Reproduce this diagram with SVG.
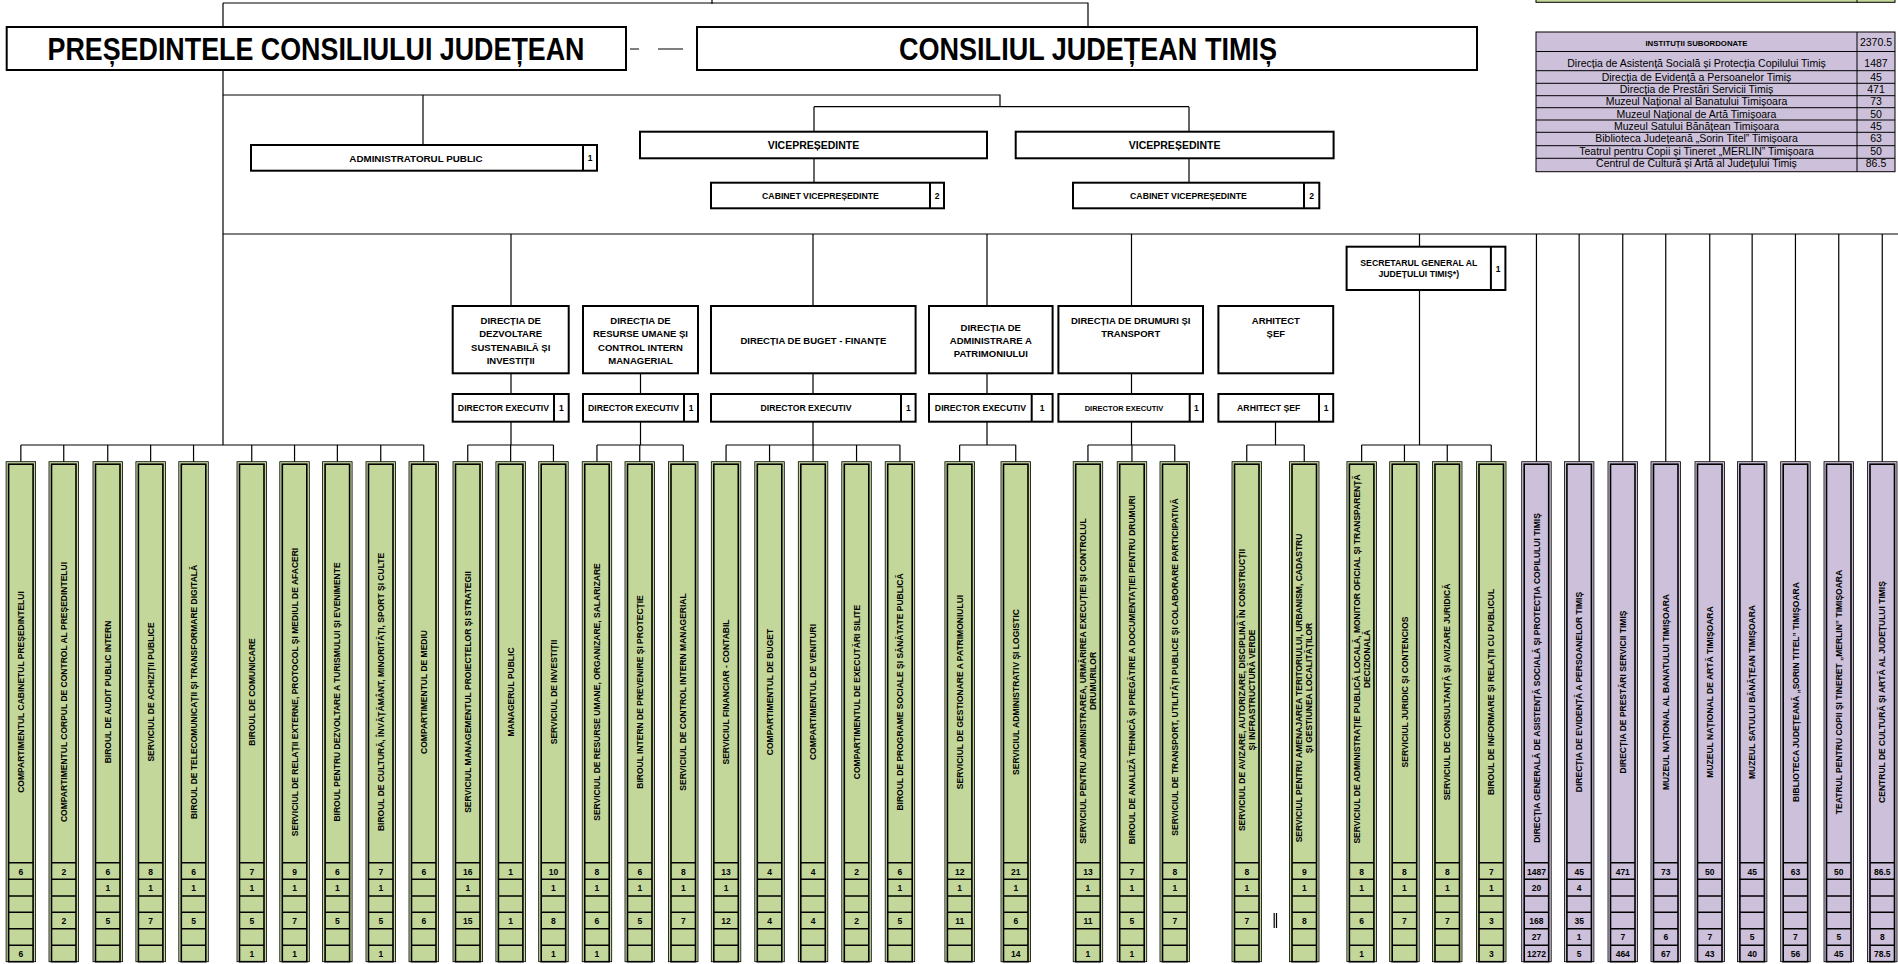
<svg xmlns="http://www.w3.org/2000/svg" width="1898" height="964" viewBox="0 0 1898 964">
<style>
.ln{stroke:#000;stroke-width:1.2;fill:none}
.bx{fill:#fff;stroke:#000;stroke-width:2}
.dv{stroke:#000;stroke-width:2}
.t{font-family:"Liberation Sans",Arial,sans-serif;font-weight:bold;text-anchor:middle;fill:#000}
.big{font-size:31px}
.s10{font-size:10.5px}
.s95{font-size:9.5px}
.s97{font-size:9.8px}
.s87{font-size:8.7px}
.s85{font-size:8.5px}
.s75{font-size:7.5px}
.s78{font-size:7.8px}
.n{font-size:8.5px}
.lb{font-size:8.5px}
.tb{font-family:"Liberation Sans",Arial,sans-serif;font-size:10.5px;text-anchor:middle;fill:#000}
.tbl{fill:#CCC0DA;stroke:#000;stroke-width:1}
.tl{stroke:#000;stroke-width:1}
</style>
<defs>
<g id="frame">
<rect x="0" y="0" width="29.5" height="500" stroke="#000" stroke-width="0.8"/>
<rect x="2.5" y="2.5" width="24.5" height="497.5" fill="none" stroke="#000" stroke-width="1.6"/>
<path d="M2.5,401H27M2.5,417.6H27M2.5,434.3H27M2.5,450.6H27M2.5,467H27M2.5,483.6H27" stroke="#000" stroke-width="1.6"/>
</g>
</defs>
<rect width="1898" height="964" fill="#fff"/>

<g id="connectors" class="ln">
<path d="M223,3H1088V27"/>
<path d="M712,0V4"/>
<path d="M223,3V445"/>
<path d="M630,49H639M658,49H683"/>
<path d="M223,95H1000V106.7M814,106.7H1189M814,106.7V131.7M1189,106.7V131.7"/>
<path d="M423,95V145"/>
<path d="M814,158.3V182.7M1189,158.3V182.7"/>
<path d="M223,234H1898"/>
<path d="M511,234V306M813,234V306M987,234V306M1131.5,234V306M1419.5,234V246.7"/>
<path d="M511,373.3V394M640.5,373.3V394M813,373.3V394M987,373.3V394M1131.5,373.3V394"/>
<path d="M511,421.7V445M640.5,421.7V445M813,421.7V445M987,421.7V445M1131.5,421.7V445M1275.5,421.7V445"/>
<path d="M1419.5,290V445"/>
<path d="M20.85,445H423.75M20.85,445V461.7M63.75,445V461.7M107.75,445V461.7M150.65,445V461.7M193.55,445V461.7M251.75,445V461.7M294.55,445V461.7M337.35,445V461.7M380.75,445V461.7M423.75,445V461.7"/>
<path d="M467.75,445H553.45M467.75,445V461.7M510.65,445V461.7M553.45,445V461.7"/>
<path d="M596.95,445H683.25M596.95,445V461.7M639.75,445V461.7M683.25,445V461.7"/>
<path d="M726.05,445H899.95M726.05,445V461.7M769.55,445V461.7M813.05,445V461.7M856.55,445V461.7M899.95,445V461.7"/>
<path d="M959.65,445H1015.75M959.65,445V461.7M1015.75,445V461.7"/>
<path d="M1087.95,445H1174.75M1087.95,445V461.7M1131.95,445V461.7M1174.75,445V461.7"/>
<path d="M1246.75,445H1304.25M1246.75,445V461.7M1304.25,445V461.7"/>
<path d="M1361.65,445H1491.25M1361.65,445V461.7M1404.45,445V461.7M1447.25,445V461.7M1491.25,445V461.7"/>
<path d="M1536.45,234V461.7M1579.15,234V461.7M1622.75,234V461.7M1665.75,234V461.7M1709.75,234V461.7M1752.15,234V461.7M1795.45,234V461.7M1838.75,234V461.7M1882.25,234V461.7"/>
<path d="M1274.2,913V928M1276.5,913V928"/>
</g>

<g id="n-presedinte">
<rect class="bx" x="6.7" y="27" width="619.3" height="43"/>
<text class="t big" x="316" y="60" textLength="537" lengthAdjust="spacingAndGlyphs">PREȘEDINTELE CONSILIULUI JUDEȚEAN</text>
</g>
<g id="n-consiliu">
<rect class="bx" x="697" y="27" width="780" height="43"/>
<text class="t big" x="1088" y="60" textLength="378" lengthAdjust="spacingAndGlyphs">CONSILIUL JUDEȚEAN TIMIȘ</text>
</g>

<g id="n-admin">
<rect class="bx" x="251" y="145" width="346" height="25.7"/>
<path class="dv" d="M583,145V170.7"/>
<text class="t s97" x="416" y="161.5">ADMINISTRATORUL PUBLIC</text>
<text class="t s85" x="590" y="161">1</text>
</g>
<g id="n-vice1">
<rect class="bx" x="640" y="131.7" width="347" height="26.6"/>
<text class="t s10" x="813.5" y="148.8">VICEPREȘEDINTE</text>
</g>
<g id="n-vice2">
<rect class="bx" x="1015.7" y="131.7" width="317.9" height="26.6"/>
<text class="t s10" x="1174.6" y="148.8">VICEPREȘEDINTE</text>
</g>
<g id="n-cab1">
<rect class="bx" x="711" y="182.7" width="233" height="25.6"/>
<path class="dv" d="M930,182.7V208.3"/>
<text class="t s87" x="820.5" y="198.6">CABINET VICEPREȘEDINTE</text>
<text class="t s85" x="937" y="198.5">2</text>
</g>
<g id="n-cab2">
<rect class="bx" x="1073" y="182.7" width="246.3" height="25.6"/>
<path class="dv" d="M1304,182.7V208.3"/>
<text class="t s87" x="1188.5" y="198.6">CABINET VICEPREȘEDINTE</text>
<text class="t s85" x="1311.7" y="198.5">2</text>
</g>
<g id="n-secretar">
<rect class="bx" x="1346.6" y="246.7" width="158.8" height="43.3"/>
<path class="dv" d="M1490.9,246.7V290"/>
<text class="t s87" x="1418.8" y="266.3">SECRETARUL GENERAL AL</text>
<text class="t s87" x="1418.8" y="277.3">JUDEȚULUI TIMIȘ*)</text>
<text class="t s85" x="1498.2" y="272">1</text>
</g>

<g id="n-dir1">
<rect class="bx" x="452.7" y="306" width="116" height="67.3"/>
<text class="t s95" x="510.7" y="324">DIRECȚIA DE</text>
<text class="t s95" x="510.7" y="337.3">DEZVOLTARE</text>
<text class="t s95" x="510.7" y="350.6">SUSTENABILĂ ȘI</text>
<text class="t s95" x="510.7" y="364">INVESTIȚII</text>
</g>
<g id="n-dir2">
<rect class="bx" x="583" y="306" width="115" height="67.3"/>
<text class="t s95" x="640.5" y="324">DIRECȚIA DE</text>
<text class="t s95" x="640.5" y="337.3">RESURSE UMANE ȘI</text>
<text class="t s95" x="640.5" y="350.6">CONTROL INTERN</text>
<text class="t s95" x="640.5" y="364">MANAGERIAL</text>
</g>
<g id="n-dir3">
<rect class="bx" x="711" y="306" width="204.6" height="67.3"/>
<text class="t s95" x="813.3" y="344">DIRECȚIA DE BUGET - FINANȚE</text>
</g>
<g id="n-dir4">
<rect class="bx" x="929" y="306" width="123.6" height="67.3"/>
<text class="t s95" x="990.8" y="330.7">DIRECȚIA DE</text>
<text class="t s95" x="990.8" y="344">ADMINISTRARE A</text>
<text class="t s95" x="990.8" y="357.3">PATRIMONIULUI</text>
</g>
<g id="n-dir5">
<rect class="bx" x="1058.4" y="306" width="144.6" height="67.3"/>
<text class="t s95" x="1130.7" y="324">DIRECȚIA DE DRUMURI ȘI</text>
<text class="t s95" x="1130.7" y="337.3">TRANSPORT</text>
</g>
<g id="n-dir6">
<rect class="bx" x="1218.4" y="306" width="114.8" height="67.3"/>
<text class="t s95" x="1275.8" y="324">ARHITECT</text>
<text class="t s95" x="1275.8" y="337.3">ȘEF</text>
</g>

<g id="n-de1">
<rect class="bx" x="452.7" y="394" width="116" height="27.7"/>
<path class="dv" d="M554,394V421.7"/>
<text class="t s87" x="503.4" y="411">DIRECTOR EXECUTIV</text>
<text class="t s85" x="561.3" y="411">1</text>
</g>
<g id="n-de2">
<rect class="bx" x="583" y="394" width="115" height="27.7"/>
<path class="dv" d="M684,394V421.7"/>
<text class="t s87" x="633.5" y="411">DIRECTOR EXECUTIV</text>
<text class="t s85" x="691" y="411">1</text>
</g>
<g id="n-de3">
<rect class="bx" x="711" y="394" width="204.6" height="27.7"/>
<path class="dv" d="M901,394V421.7"/>
<text class="t s87" x="806" y="411">DIRECTOR EXECUTIV</text>
<text class="t s85" x="908.3" y="411">1</text>
</g>
<g id="n-de4">
<rect class="bx" x="929" y="394" width="123.6" height="27.7"/>
<path class="dv" d="M1031.7,394V421.7"/>
<text class="t s87" x="980.4" y="411">DIRECTOR EXECUTIV</text>
<text class="t s85" x="1042.2" y="411">1</text>
</g>
<g id="n-de5">
<rect class="bx" x="1058.4" y="394" width="144.6" height="27.7"/>
<path class="dv" d="M1189.7,394V421.7"/>
<text class="t s75" x="1124" y="410.5">DIRECTOR EXECUTIV</text>
<text class="t s85" x="1196.4" y="411">1</text>
</g>
<g id="n-de6">
<rect class="bx" x="1218.4" y="394" width="114.8" height="27.7"/>
<path class="dv" d="M1319,394V421.7"/>
<text class="t s87" x="1268.7" y="411">ARHITECT ȘEF</text>
<text class="t s85" x="1326.1" y="411">1</text>
</g>

<g id="n-table">
<rect x="1536" y="-2" width="359" height="4.3" fill="#C4D79B" stroke="#000" stroke-width="1"/>
<path class="tl" d="M1857,-2V2.3"/>
<rect class="tbl" x="1536" y="32" width="359" height="139.7"/>
<path class="tl" d="M1857,32V171.7M1536,51.5H1895M1536,70.7H1895M1536,83.3H1895M1536,95.7H1895M1536,107.7H1895M1536,120H1895M1536,132.3H1895M1536,145.7H1895M1536,158.3H1895"/>
<text class="t s78" x="1696.5" y="46">INSTITUȚII SUBORDONATE</text>
<text class="tb" x="1876" y="46">2370.5</text>
<text class="tb" x="1696.5" y="67">Direcția de Asistență Socială și Protecția Copilului Timiș</text><text class="tb" x="1876" y="67">1487</text>
<text class="tb" x="1696.5" y="80.8">Direcția de Evidență a Persoanelor Timiș</text><text class="tb" x="1876" y="80.8">45</text>
<text class="tb" x="1696.5" y="93.2">Direcția de Prestări Servicii Timiș</text><text class="tb" x="1876" y="93.2">471</text>
<text class="tb" x="1696.5" y="105.3">Muzeul Național al Banatului Timișoara</text><text class="tb" x="1876" y="105.3">73</text>
<text class="tb" x="1696.5" y="117.6">Muzeul Național de Artă Timișoara</text><text class="tb" x="1876" y="117.6">50</text>
<text class="tb" x="1696.5" y="129.9">Muzeul Satului Bănățean Timișoara</text><text class="tb" x="1876" y="129.9">45</text>
<text class="tb" x="1696.5" y="141.5">Biblioteca Județeană „Sorin Titel” Timișoara</text><text class="tb" x="1876" y="141.5">63</text>
<text class="tb" x="1696.5" y="155.4">Teatrul pentru Copii și Tineret „MERLIN” Timișoara</text><text class="tb" x="1876" y="155.4">50</text>
<text class="tb" x="1696.5" y="167.3">Centrul de Cultură și Artă al Județului Timiș</text><text class="tb" x="1876" y="167.3">86.5</text>
</g>

<g id="c01"><use href="#frame" x="6.1" y="461.7" fill="#C4D79B"/><text class="t lb" transform="translate(23.9,692) rotate(-90)">COMPARTIMENTUL CABINETUL PREȘEDINTELUI</text><text class="t n" x="20.85" y="874.5">6</text><text class="t n" x="20.85" y="957">6</text></g>
<g id="c02"><use href="#frame" x="49" y="461.7" fill="#C4D79B"/><text class="t lb" transform="translate(66.8,692) rotate(-90)">COMPARTIMENTUL CORPUL DE CONTROL AL PREȘEDINTELUI</text><text class="t n" x="63.75" y="874.5">2</text><text class="t n" x="63.75" y="924">2</text></g>
<g id="c03"><use href="#frame" x="93" y="461.7" fill="#C4D79B"/><text class="t lb" transform="translate(110.8,692) rotate(-90)">BIROUL DE AUDIT PUBLIC INTERN</text><text class="t n" x="107.75" y="874.5">6</text><text class="t n" x="107.75" y="891">1</text><text class="t n" x="107.75" y="924">5</text></g>
<g id="c04"><use href="#frame" x="135.9" y="461.7" fill="#C4D79B"/><text class="t lb" transform="translate(153.7,692) rotate(-90)">SERVICIUL DE ACHIZIȚII PUBLICE</text><text class="t n" x="150.65" y="874.5">8</text><text class="t n" x="150.65" y="891">1</text><text class="t n" x="150.65" y="924">7</text></g>
<g id="c05"><use href="#frame" x="178.8" y="461.7" fill="#C4D79B"/><text class="t lb" transform="translate(196.6,692) rotate(-90)">BIROUL DE TELECOMUNICAȚII ȘI TRANSFORMARE DIGITALĂ</text><text class="t n" x="193.55" y="874.5">6</text><text class="t n" x="193.55" y="891">1</text><text class="t n" x="193.55" y="924">5</text></g>
<g id="c06"><use href="#frame" x="237" y="461.7" fill="#C4D79B"/><text class="t lb" transform="translate(254.8,692) rotate(-90)">BIROUL DE COMUNICARE</text><text class="t n" x="251.75" y="874.5">7</text><text class="t n" x="251.75" y="891">1</text><text class="t n" x="251.75" y="924">5</text><text class="t n" x="251.75" y="957">1</text></g>
<g id="c07"><use href="#frame" x="279.8" y="461.7" fill="#C4D79B"/><text class="t lb" transform="translate(297.6,692) rotate(-90)">SERVICIUL DE RELAȚII EXTERNE, PROTOCOL ȘI MEDIUL DE AFACERI</text><text class="t n" x="294.55" y="874.5">9</text><text class="t n" x="294.55" y="891">1</text><text class="t n" x="294.55" y="924">7</text><text class="t n" x="294.55" y="957">1</text></g>
<g id="c08"><use href="#frame" x="322.6" y="461.7" fill="#C4D79B"/><text class="t lb" transform="translate(340.4,692) rotate(-90)">BIROUL PENTRU DEZVOLTARE A TURISMULUI ȘI EVENIMENTE</text><text class="t n" x="337.35" y="874.5">6</text><text class="t n" x="337.35" y="891">1</text><text class="t n" x="337.35" y="924">5</text></g>
<g id="c09"><use href="#frame" x="366" y="461.7" fill="#C4D79B"/><text class="t lb" transform="translate(383.8,692) rotate(-90)">BIROUL DE CULTURĂ, ÎNVĂȚĂMÂNT, MINORITĂȚI, SPORT ȘI CULTE</text><text class="t n" x="380.75" y="874.5">7</text><text class="t n" x="380.75" y="891">1</text><text class="t n" x="380.75" y="924">5</text><text class="t n" x="380.75" y="957">1</text></g>
<g id="c10"><use href="#frame" x="409" y="461.7" fill="#C4D79B"/><text class="t lb" transform="translate(426.8,692) rotate(-90)">COMPARTIMENTUL DE MEDIU</text><text class="t n" x="423.75" y="874.5">6</text><text class="t n" x="423.75" y="924">6</text></g>
<g id="c11"><use href="#frame" x="453" y="461.7" fill="#C4D79B"/><text class="t lb" transform="translate(470.8,692) rotate(-90)">SERVICIUL MANAGEMENTUL PROIECTELOR ȘI STRATEGII</text><text class="t n" x="467.75" y="874.5">16</text><text class="t n" x="467.75" y="891">1</text><text class="t n" x="467.75" y="924">15</text></g>
<g id="c12"><use href="#frame" x="495.9" y="461.7" fill="#C4D79B"/><text class="t lb" transform="translate(513.7,692) rotate(-90)">MANAGERUL PUBLIC</text><text class="t n" x="510.65" y="874.5">1</text><text class="t n" x="510.65" y="924">1</text></g>
<g id="c13"><use href="#frame" x="538.7" y="461.7" fill="#C4D79B"/><text class="t lb" transform="translate(556.5,692) rotate(-90)">SERVICIUL DE INVESTIȚII</text><text class="t n" x="553.45" y="874.5">10</text><text class="t n" x="553.45" y="891">1</text><text class="t n" x="553.45" y="924">8</text><text class="t n" x="553.45" y="957">1</text></g>
<g id="c14"><use href="#frame" x="582.2" y="461.7" fill="#C4D79B"/><text class="t lb" transform="translate(600,692) rotate(-90)">SERVICIUL DE RESURSE UMANE, ORGANIZARE, SALARIZARE</text><text class="t n" x="596.95" y="874.5">8</text><text class="t n" x="596.95" y="891">1</text><text class="t n" x="596.95" y="924">6</text><text class="t n" x="596.95" y="957">1</text></g>
<g id="c15"><use href="#frame" x="625" y="461.7" fill="#C4D79B"/><text class="t lb" transform="translate(642.8,692) rotate(-90)">BIROUL INTERN DE PREVENIRE ȘI PROTECȚIE</text><text class="t n" x="639.75" y="874.5">6</text><text class="t n" x="639.75" y="891">1</text><text class="t n" x="639.75" y="924">5</text></g>
<g id="c16"><use href="#frame" x="668.5" y="461.7" fill="#C4D79B"/><text class="t lb" transform="translate(686.3,692) rotate(-90)">SERVICIUL DE CONTROL INTERN MANAGERIAL</text><text class="t n" x="683.25" y="874.5">8</text><text class="t n" x="683.25" y="891">1</text><text class="t n" x="683.25" y="924">7</text></g>
<g id="c17"><use href="#frame" x="711.3" y="461.7" fill="#C4D79B"/><text class="t lb" transform="translate(729.1,692) rotate(-90)">SERVICIUL  FINANCIAR - CONTABIL</text><text class="t n" x="726.05" y="874.5">13</text><text class="t n" x="726.05" y="891">1</text><text class="t n" x="726.05" y="924">12</text></g>
<g id="c18"><use href="#frame" x="754.8" y="461.7" fill="#C4D79B"/><text class="t lb" transform="translate(772.6,692) rotate(-90)">COMPARTIMENTUL DE BUGET</text><text class="t n" x="769.55" y="874.5">4</text><text class="t n" x="769.55" y="924">4</text></g>
<g id="c19"><use href="#frame" x="798.3" y="461.7" fill="#C4D79B"/><text class="t lb" transform="translate(816.1,692) rotate(-90)">COMPARTIMENTUL DE VENITURI</text><text class="t n" x="813.05" y="874.5">4</text><text class="t n" x="813.05" y="924">4</text></g>
<g id="c20"><use href="#frame" x="841.8" y="461.7" fill="#C4D79B"/><text class="t lb" transform="translate(859.6,692) rotate(-90)">COMPARTIMENTUL DE EXECUTĂRI SILITE</text><text class="t n" x="856.55" y="874.5">2</text><text class="t n" x="856.55" y="924">2</text></g>
<g id="c21"><use href="#frame" x="885.2" y="461.7" fill="#C4D79B"/><text class="t lb" transform="translate(903,692) rotate(-90)">BIROUL DE PROGRAME SOCIALE ȘI SĂNĂTATE PUBLICĂ</text><text class="t n" x="899.95" y="874.5">6</text><text class="t n" x="899.95" y="891">1</text><text class="t n" x="899.95" y="924">5</text></g>
<g id="c22"><use href="#frame" x="944.9" y="461.7" fill="#C4D79B"/><text class="t lb" transform="translate(962.7,692) rotate(-90)">SERVICIUL DE GESTIONARE A PATRIMONIULUI</text><text class="t n" x="959.65" y="874.5">12</text><text class="t n" x="959.65" y="891">1</text><text class="t n" x="959.65" y="924">11</text></g>
<g id="c23"><use href="#frame" x="1001" y="461.7" fill="#C4D79B"/><text class="t lb" transform="translate(1018.8,692) rotate(-90)">SERVICIUL  ADMINISTRATIV ȘI LOGISTIC</text><text class="t n" x="1015.75" y="874.5">21</text><text class="t n" x="1015.75" y="891">1</text><text class="t n" x="1015.75" y="924">6</text><text class="t n" x="1015.75" y="957">14</text></g>
<g id="c24"><use href="#frame" x="1073.2" y="461.7" fill="#C4D79B"/><text class="t lb" transform="translate(1086,681) rotate(-90)">SERVICIUL PENTRU ADMINISTRAREA, URMĂRIREA EXECUȚIEI ȘI CONTROLUL</text><text class="t lb" transform="translate(1096,681) rotate(-90)">DRUMURILOR</text><text class="t n" x="1087.95" y="874.5">13</text><text class="t n" x="1087.95" y="891">1</text><text class="t n" x="1087.95" y="924">11</text><text class="t n" x="1087.95" y="957">1</text></g>
<g id="c25"><use href="#frame" x="1117.2" y="461.7" fill="#C4D79B"/><text class="t lb" transform="translate(1135,670) rotate(-90)">BIROUL DE ANALIZĂ TEHNICĂ ȘI PREGĂTIRE A DOCUMENTAȚIEI PENTRU DRUMURI</text><text class="t n" x="1131.95" y="874.5">7</text><text class="t n" x="1131.95" y="891">1</text><text class="t n" x="1131.95" y="924">5</text><text class="t n" x="1131.95" y="957">1</text></g>
<g id="c26"><use href="#frame" x="1160" y="461.7" fill="#C4D79B"/><text class="t lb" transform="translate(1177.8,667) rotate(-90)">SERVICIUL DE TRANSPORT, UTILITĂȚI PUBLICE ȘI COLABORARE PARTICIPATIVĂ</text><text class="t n" x="1174.75" y="874.5">8</text><text class="t n" x="1174.75" y="891">1</text><text class="t n" x="1174.75" y="924">7</text></g>
<g id="c27"><use href="#frame" x="1232" y="461.7" fill="#C4D79B"/><text class="t lb" transform="translate(1244.8,690) rotate(-90)">SERVICIUL DE AVIZARE, AUTORIZARE, DISCIPLINĂ ÎN CONSTRUCȚII</text><text class="t lb" transform="translate(1254.8,690) rotate(-90)">ȘI INFRASTRUCTURĂ VERDE</text><text class="t n" x="1246.75" y="874.5">8</text><text class="t n" x="1246.75" y="891">1</text><text class="t n" x="1246.75" y="924">7</text></g>
<g id="c28"><use href="#frame" x="1289.5" y="461.7" fill="#C4D79B"/><text class="t lb" transform="translate(1302.3,688) rotate(-90)">SERVICIUL PENTRU AMENAJAREA TERITORIULUI, URBANISM, CADASTRU</text><text class="t lb" transform="translate(1312.3,688) rotate(-90)">ȘI GESTIUNEA LOCALITĂȚILOR</text><text class="t n" x="1304.25" y="874.5">9</text><text class="t n" x="1304.25" y="891">1</text><text class="t n" x="1304.25" y="924">8</text></g>
<g id="c29"><use href="#frame" x="1346.9" y="461.7" fill="#C4D79B"/><text class="t lb" transform="translate(1359.7,659) rotate(-90)">SERVICIUL DE ADMINISTRAȚIE PUBLICĂ LOCALĂ, MONITOR OFICIAL ȘI TRANSPARENȚĂ</text><text class="t lb" transform="translate(1369.7,659) rotate(-90)">DECIZIONALĂ</text><text class="t n" x="1361.65" y="874.5">8</text><text class="t n" x="1361.65" y="891">1</text><text class="t n" x="1361.65" y="924">6</text><text class="t n" x="1361.65" y="957">1</text></g>
<g id="c30"><use href="#frame" x="1389.7" y="461.7" fill="#C4D79B"/><text class="t lb" transform="translate(1407.5,692) rotate(-90)">SERVICIUL  JURIDIC ȘI CONTENCIOS</text><text class="t n" x="1404.45" y="874.5">8</text><text class="t n" x="1404.45" y="891">1</text><text class="t n" x="1404.45" y="924">7</text></g>
<g id="c31"><use href="#frame" x="1432.5" y="461.7" fill="#C4D79B"/><text class="t lb" transform="translate(1450.3,692) rotate(-90)">SERVICIUL DE CONSULTANȚĂ ȘI AVIZARE JURIDICĂ</text><text class="t n" x="1447.25" y="874.5">8</text><text class="t n" x="1447.25" y="891">1</text><text class="t n" x="1447.25" y="924">7</text></g>
<g id="c32"><use href="#frame" x="1476.5" y="461.7" fill="#C4D79B"/><text class="t lb" transform="translate(1494.3,692) rotate(-90)">BIROUL DE INFORMARE ȘI RELAȚII CU PUBLICUL</text><text class="t n" x="1491.25" y="874.5">7</text><text class="t n" x="1491.25" y="891">1</text><text class="t n" x="1491.25" y="924">3</text><text class="t n" x="1491.25" y="957">3</text></g>
<g id="c33"><use href="#frame" x="1521.7" y="461.7" fill="#CCC0DA"/><text class="t lb" transform="translate(1539.5,678) rotate(-90)">DIRECȚIA GENERALĂ DE ASISTENȚĂ SOCIALĂ ȘI PROTECȚIA COPILULUI TIMIȘ</text><text class="t n" x="1536.45" y="874.5">1487</text><text class="t n" x="1536.45" y="891">20</text><text class="t n" x="1536.45" y="924">168</text><text class="t n" x="1536.45" y="940.4">27</text><text class="t n" x="1536.45" y="957">1272</text></g>
<g id="c34"><use href="#frame" x="1564.4" y="461.7" fill="#CCC0DA"/><text class="t lb" transform="translate(1582.2,692) rotate(-90)">DIRECȚIA DE EVIDENȚĂ A PERSOANELOR TIMIȘ</text><text class="t n" x="1579.15" y="874.5">45</text><text class="t n" x="1579.15" y="891">4</text><text class="t n" x="1579.15" y="924">35</text><text class="t n" x="1579.15" y="940.4">1</text><text class="t n" x="1579.15" y="957">5</text></g>
<g id="c35"><use href="#frame" x="1608" y="461.7" fill="#CCC0DA"/><text class="t lb" transform="translate(1625.8,692) rotate(-90)">DIRECȚIA DE PRESTĂRI SERVICII TIMIȘ</text><text class="t n" x="1622.75" y="874.5">471</text><text class="t n" x="1622.75" y="940.4">7</text><text class="t n" x="1622.75" y="957">464</text></g>
<g id="c36"><use href="#frame" x="1651" y="461.7" fill="#CCC0DA"/><text class="t lb" transform="translate(1668.8,692) rotate(-90)">MUZEUL NAȚIONAL AL BANATULUI TIMIȘOARA</text><text class="t n" x="1665.75" y="874.5">73</text><text class="t n" x="1665.75" y="940.4">6</text><text class="t n" x="1665.75" y="957">67</text></g>
<g id="c37"><use href="#frame" x="1695" y="461.7" fill="#CCC0DA"/><text class="t lb" transform="translate(1712.8,692) rotate(-90)">MUZEUL NAȚIONAL DE ARTĂ TIMIȘOARA</text><text class="t n" x="1709.75" y="874.5">50</text><text class="t n" x="1709.75" y="940.4">7</text><text class="t n" x="1709.75" y="957">43</text></g>
<g id="c38"><use href="#frame" x="1737.4" y="461.7" fill="#CCC0DA"/><text class="t lb" transform="translate(1755.2,692) rotate(-90)">MUZEUL SATULUI BĂNĂȚEAN TIMIȘOARA</text><text class="t n" x="1752.15" y="874.5">45</text><text class="t n" x="1752.15" y="940.4">5</text><text class="t n" x="1752.15" y="957">40</text></g>
<g id="c39"><use href="#frame" x="1780.7" y="461.7" fill="#CCC0DA"/><text class="t lb" transform="translate(1798.5,692) rotate(-90)">BIBLIOTECA JUDEȚEANĂ „SORIN TITEL” TIMIȘOARA</text><text class="t n" x="1795.45" y="874.5">63</text><text class="t n" x="1795.45" y="940.4">7</text><text class="t n" x="1795.45" y="957">56</text></g>
<g id="c40"><use href="#frame" x="1824" y="461.7" fill="#CCC0DA"/><text class="t lb" transform="translate(1841.8,692) rotate(-90)">TEATRUL PENTRU COPII ȘI TINERET „MERLIN” TIMIȘOARA</text><text class="t n" x="1838.75" y="874.5">50</text><text class="t n" x="1838.75" y="940.4">5</text><text class="t n" x="1838.75" y="957">45</text></g>
<g id="c41"><use href="#frame" x="1867.5" y="461.7" fill="#CCC0DA"/><text class="t lb" transform="translate(1885.3,692) rotate(-90)">CENTRUL DE CULTURĂ ȘI ARTĂ AL JUDEȚULUI TIMIȘ</text><text class="t n" x="1882.25" y="874.5">86.5</text><text class="t n" x="1882.25" y="940.4">8</text><text class="t n" x="1882.25" y="957">78.5</text></g>
</svg>
